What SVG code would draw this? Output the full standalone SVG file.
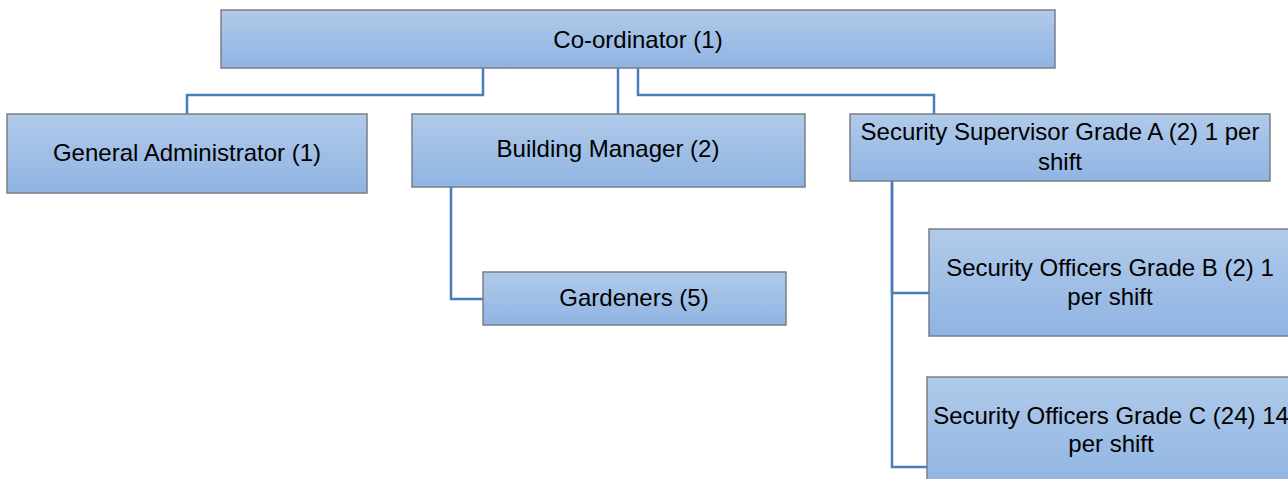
<svg xmlns="http://www.w3.org/2000/svg" width="1288" height="479" viewBox="0 0 1288 479">
<defs>
<linearGradient id="g" x1="0" y1="0" x2="0" y2="1">
<stop offset="0" stop-color="#b1cae9"/>
<stop offset="1" stop-color="#8fb4e3"/>
</linearGradient>
<style>
.box{fill:url(#g);stroke:#7a7f86;stroke-width:1.5}
.t{font-family:"Liberation Sans",Arial,sans-serif;font-size:24px;fill:#000;text-anchor:middle}
.c{fill:none;stroke:#4a7ebb;stroke-width:2.5}
</style>
</defs>
<rect width="1288" height="479" fill="#fff"/>
<g id="connectors">
<path class="c" d="M483 68V95H187V114"/>
<path class="c" d="M618 68V114"/>
<path class="c" d="M638 68V95H934V114"/>
<path class="c" d="M451 187V299H483"/>
<path class="c" d="M892 181V293H929"/>
<path class="c" d="M892 181V467H927"/>
</g>
<g id="coordinator">
<rect class="box" x="221" y="10" width="834" height="58"/>
<text class="t" x="638" y="48">Co-ordinator (1)</text>
</g>
<g id="general-administrator">
<rect class="box" x="7" y="114" width="360" height="79"/>
<text class="t" x="187" y="161">General Administrator (1)</text>
</g>
<g id="building-manager">
<rect class="box" x="412" y="114" width="393" height="73"/>
<text class="t" x="608" y="157">Building Manager (2)</text>
</g>
<g id="security-supervisor">
<rect class="box" x="850" y="114" width="420" height="67"/>
<text class="t" x="1060" y="140">Security Supervisor Grade A (2) 1 per</text>
<text class="t" x="1060" y="170">shift</text>
</g>
<g id="gardeners">
<rect class="box" x="483" y="272" width="303" height="53"/>
<text class="t" x="634" y="306">Gardeners (5)</text>
</g>
<g id="security-officers-b">
<rect class="box" x="929" y="229" width="362" height="107"/>
<text class="t" x="1110" y="276">Security Officers Grade B (2) 1</text>
<text class="t" x="1110" y="305">per shift</text>
</g>
<g id="security-officers-c">
<rect class="box" x="927" y="377" width="366" height="110"/>
<text class="t" x="1111" y="424">Security Officers Grade C (24) 14</text>
<text class="t" x="1111" y="452">per shift</text>
</g>
</svg>
